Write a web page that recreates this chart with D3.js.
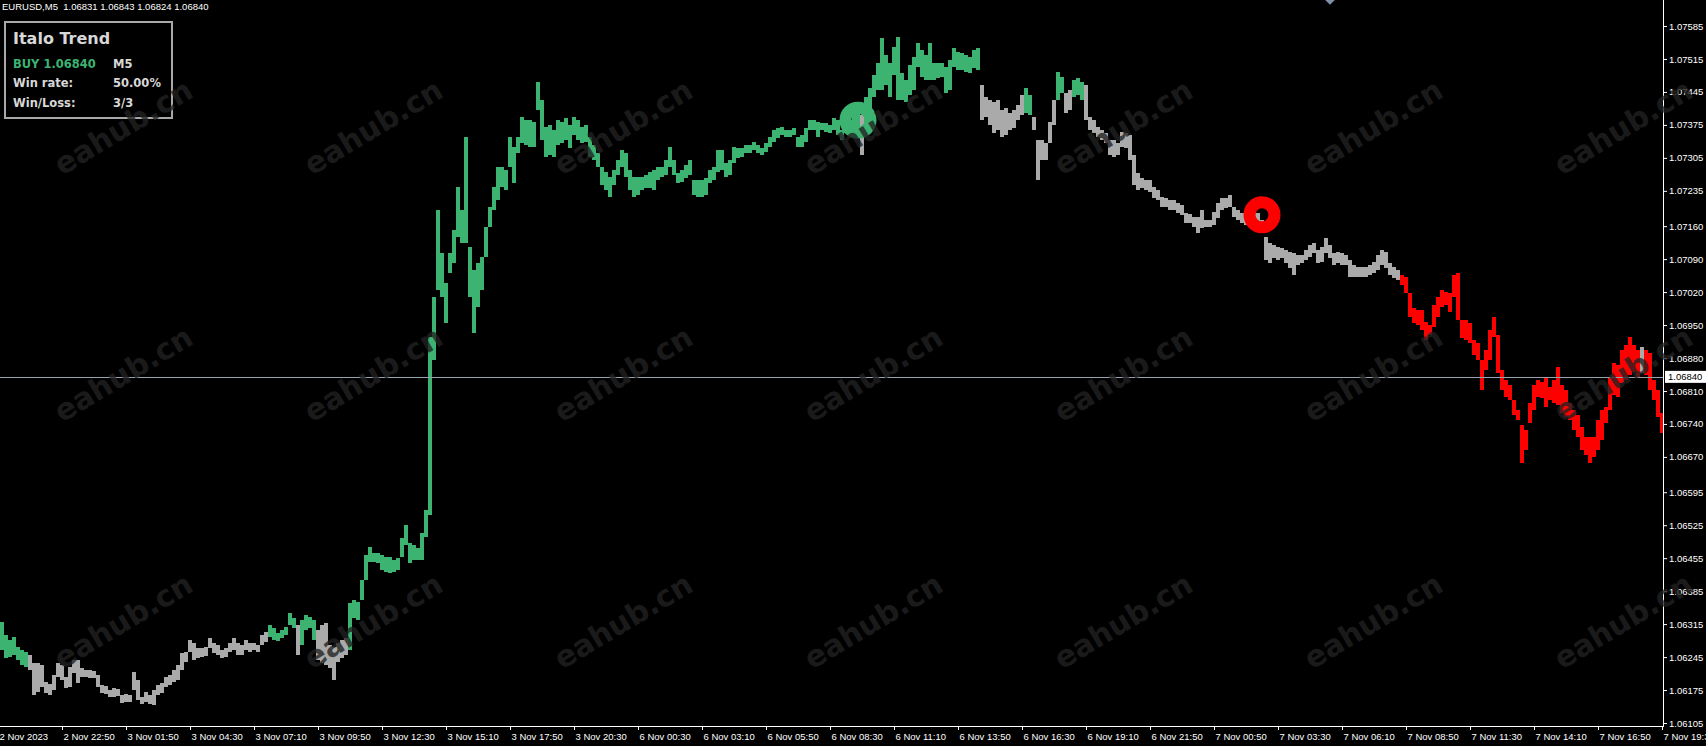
<!doctype html>
<html>
<head>
  <meta charset="UTF-8">
  <script src="https://cdn.jsdelivr.net/npm/d3@7"></script>
  <style>
    body { margin: 0; background: #000; overflow: hidden; }
    svg { display: block; }
    .axis text { font-family: "Liberation Sans", Arial, sans-serif; font-size: 9.5px; fill: #fff; }
    .axis line { stroke: #fff; }
    .panel text { font-family: "DejaVu Sans", sans-serif; font-weight: bold; fill: #d8d8d8; }
  </style>
</head>
<body>
<svg width="1706" height="746"></svg>
<script>
const symbolTitle = "EURUSD,M5  1.06831 1.06843 1.06824 1.06840";
const bidPrice = 1.06840;

const priceTicks = [1.07585, 1.07515, 1.07445, 1.07375, 1.07305, 1.07235, 1.07160, 1.07090,
  1.07020, 1.06950, 1.06880, 1.06810, 1.06740, 1.06670, 1.06595, 1.06525, 1.06455,
  1.06385, 1.06315, 1.06245, 1.06175, 1.06105];

const timeLabels = ["2 Nov 2023", "2 Nov 22:50", "3 Nov 01:50", "3 Nov 04:30", "3 Nov 07:10",
  "3 Nov 09:50", "3 Nov 12:30", "3 Nov 15:10", "3 Nov 17:50", "3 Nov 20:30", "6 Nov 00:30",
  "6 Nov 03:10", "6 Nov 05:50", "6 Nov 08:30", "6 Nov 11:10", "6 Nov 13:50", "6 Nov 16:30",
  "6 Nov 19:10", "6 Nov 21:50", "7 Nov 00:50", "7 Nov 03:30", "7 Nov 06:10", "7 Nov 08:50",
  "7 Nov 11:30", "7 Nov 14:10", "7 Nov 16:50", "7 Nov 19:30"];
const barsPerLabel = 32;

// price = BASE + points * POINT, one entry per pair of M5 bars
const BASE = 1.06, POINT = 0.00001;
const highs = [
  320,292,281,288,266,260,256,249,232,232, 228,192,188,207,232,228,203,224,239,239,
  222,218,218,216,207,186,184,175,179,177, 164,167,164,213,196,160,171,164,175,186,
  190,203,207,218,228,254,256,281,275,264, 264,266,286,275,271,260,264,275,286,275,
  271,281,275,275,271,292,298,313,307,296, 302,309,339,328,313,324,334,330,324,302,
  313,317,271,266,275,281,286,360,366,362, 409,462,479,466,466,462,458,458,451,455,
  498,525,487,483,477,508,557,925,1010,1194, 1103,1039,1103,1152,1243,1194,1349,1116,1067,1082,
  1095,1158,1201,1243,1286,1286,1279,1349,1328,1349, 1392,1385,1385,1381,1466,1428,1371,1375,1364,1385,
  1381,1390,1375,1392,1385,1371,1375,1349,1332,1315, 1286,1275,1264,1279,1300,1322,1315,1279,1264,1264,
  1264,1269,1275,1279,1286,1286,1300,1328,1300,1273, 1279,1290,1300,1258,1258,1258,1262,1279,1286,1322,
  1322,1294,1300,1328,1326,1326,1332,1332,1339,1332, 1326,1337,1349,1364,1368,1371,1364,1364,1368,1349,
  1354,1368,1385,1385,1381,1379,1379,1375,1390,1385, 1364,1385,1385,1400,1402,1396,1434,1453,1481,1506,
  1560,1523,1506,1540,1562,1485,1470,1502,1519,1549, 1534,1523,1549,1506,1506,1506,1498,1513,1538,1530,
  1528,1523,1519,1534,1538,1460,1434,1428,1424,1428, 1407,1411,1400,1407,1417,1438,1453,1438,1392,1343,
  1343,1337,1381,1428,1487,1477,1443,1449,1470,1475, 1466,1460,1392,1385,1371,1364,1358,1343,1343,1337,
  1360,1358,1354,1311,1273,1262,1258,1258,1243,1237, 1222,1220,1216,1216,1209,1205,1188,1186,1180,1180,
  1194,1173,1173,1190,1209,1220,1220,1226,1201,1194, 1188,1190,1188,1190,1188,1173,1137,1124,1120,1116,
  1113,1109,1105,1103,1099,1099,1109,1120,1124,1109, 1116,1135,1120,1103,1105,1103,1099,1088,1078,1073,
  1073,1073,1078,1084,1099,1109,1105,1082,1073,1067, 1056,1052,1018,986,982,982,956,950,993,1010,
  1024,1020,1018,1056,1061,961,961,954,918,912, 876,897,939,967,929,855,833,823,791,770,
  738,727,784,823,833,829,840,818,833,861, 823,812,784,770,759,734,712,712,712,748,
  770,776,838,869,865,897,908,925,908,897, 903,897,891,833,812,763];
const lows = [
  260,243,245,249,239,228,224,218,164,171, 181,169,164,175,203,196,179,181,211,190,
  203,203,201,200,181,169,167,160,160,162, 147,150,150,175,154,145,150,145,143,164,
  169,181,186,192,196,218,235,256,239,243, 245,247,264,254,249,243,245,256,260,249,
  249,260,256,260,256,271,277,288,281,279, 286,292,313,307,249,271,302,307,281,239,
  232,228,222,196,235,243,249,260,328,324, 366,409,447,447,445,430,426,424,426,430,
  458,483,445,451,451,451,500,547,876,1024, 1010,954,1061,1082,1137,1124,1124,1010,933,988,
  1024,1095,1158,1194,1216,1243,1237,1286,1252,1315, 1337,1332,1328,1328,1407,1343,1307,1311,1307,1332,
  1337,1343,1326,1354,1343,1337,1339,1307,1300,1286, 1247,1237,1222,1247,1269,1286,1264,1237,1222,1226,
  1237,1241,1241,1237,1258,1264,1269,1286,1269,1252, 1254,1262,1269,1226,1222,1222,1226,1252,1258,1275,
  1279,1264,1269,1294,1305,1307,1315,1315,1322,1315, 1311,1317,1328,1339,1347,1354,1349,1349,1354,1328,
  1328,1339,1364,1364,1349,1364,1360,1358,1364,1354, 1343,1358,1358,1364,1368,1311,1375,1396,1434,1449,
  1449,1460,1434,1481,1428,1428,1424,1438,1449,1498, 1477,1470,1470,1470,1474,1477,1443,1449,1498,1492,
  1492,1487,1485,1496,1492,1385,1392,1375,1358,1364, 1349,1354,1364,1368,1385,1396,1400,1396,1364,1258,
  1300,1300,1337,1375,1428,1443,1400,1407,1434,1438, 1428,1385,1364,1358,1349,1343,1337,1311,1307,1311,
  1328,1326,1300,1247,1237,1241,1237,1233,1220,1216, 1201,1201,1194,1194,1188,1184,1167,1167,1158,1146,
  1156,1158,1158,1162,1177,1194,1199,1201,1180,1173, 1167,1162,1162,1169,1169,1146,1088,1082,1092,1088,
  1092,1082,1071,1056,1078,1082,1088,1095,1103,1082, 1084,1103,1092,1078,1082,1078,1078,1052,1052,1052,
  1052,1052,1056,1061,1067,1078,1071,1056,1050,1046, 1035,1018,967,954,950,939,918,929,946,967,
  988,993,978,1010,961,922,918,912,886,876, 812,855,876,925,848,812,797,791,759,748,
  657,685,742,770,797,795,776,791,784,780, 763,755,748,727,712,685,674,657,670,685,
  706,742,770,801,797,827,833,844,850,840, 848,844,812,791,755,721];

// trend colouring: segment start index and state
const trendStart = [0, 7, 67, 74, 75, 79, 87, 215, 216, 245, 256, 258, 264, 266, 268, 271, 350, 410, 411];
const trendState = ["up","flat","up","flat","up","flat","up","flat","up","flat","up","flat","up","flat","up","flat","down","flat","down"];
const trendColor = {up: "#3cb371", flat: "#aaaaaa", down: "#ff0000"};

// signal rings
const signalCol = [214, 315];
const signalPrice = [1.07385, 1.07184];
const signalType = ["up", "down"];

const arrowCol = 332, arrowPrice = 1.07630;

const panelTitle = "Italo Trend";
const panelRows = [["BUY 1.06840", "M5"], ["Win rate:", "50.00%"], ["Win/Loss:", "3/3"]];

const svg = d3.select("svg");
const axisX = 1663, axisY = 726;

const xBar = d3.scaleLinear().domain([0, highs.length * 2]).range([0, highs.length * 4]);
const y = d3.scaleLinear().domain([1.06105, 1.07585]).range([723, 26]);
const toPrice = p => BASE + p * POINT;

function stateAt(i) {
  let s = trendState[0];
  trendStart.forEach((st, k) => { if (i >= st) s = trendState[k]; });
  return s;
}

const chart = svg.append("g");

chart.selectAll(".bar")
  .data(highs.map((h, i) => ({i: i, hi: toPrice(h), lo: toPrice(lows[i])})))
  .enter().append("rect")
  .attr("class", "bar")
  .attr("x", d => xBar(d.i * 2))
  .attr("y", d => y(d.hi))
  .attr("width", xBar(2) - xBar(0))
  .attr("height", d => Math.max(1, y(d.lo) - y(d.hi)))
  .attr("shape-rendering", "crispEdges")
  .style("fill", d => trendColor[stateAt(d.i)]);

// bid line
chart.append("line")
  .attr("x1", 0).attr("x2", axisX)
  .attr("y1", Math.round(y(bidPrice)) + 0.5).attr("y2", Math.round(y(bidPrice)) + 0.5)
  .attr("stroke", "#9aa3ad").attr("stroke-width", 1);

// signal rings
chart.selectAll(".ring")
  .data(signalCol.map((c, k) => ({c: c, p: signalPrice[k], t: signalType[k]})))
  .enter().append("circle")
  .attr("cx", d => xBar(d.c * 2 + 1))
  .attr("cy", d => y(d.p))
  .attr("r", 12.5)
  .attr("fill", "none")
  .attr("stroke", d => trendColor[d.t])
  .attr("stroke-width", 12);

// small arrow at top
const ax = xBar(arrowCol * 2 + 1), ay = y(arrowPrice);
chart.append("path")
  .attr("d", `M${ax - 6},${ay - 6}L${ax + 6},${ay - 6}L${ax},${ay}Z`)
  .attr("fill", "#8090a8");

// price axis
const yAxis = svg.append("g")
  .attr("class", "axis")
  .attr("transform", `translate(${axisX},0)`)
  .call(d3.axisRight(y).tickValues(priceTicks).tickSize(4).tickPadding(2).tickFormat(d3.format(".5f")));
yAxis.select(".domain").remove();
svg.append("line").attr("x1", axisX + 0.5).attr("x2", axisX + 0.5).attr("y1", 0).attr("y2", axisY + 1)
  .attr("stroke", "#fff");

// time axis
const labelBars = timeLabels.map((_, k) => k * barsPerLabel - 1);
const xAxis = svg.append("g")
  .attr("class", "axis")
  .attr("transform", `translate(0,${axisY})`)
  .call(d3.axisBottom(xBar).tickValues(labelBars).tickSize(4).tickPadding(3).tickFormat((d, i) => timeLabels[i]));
xAxis.select(".domain").remove();
xAxis.selectAll("text").attr("text-anchor", "start").attr("x", 1);
svg.append("line").attr("x1", 0).attr("x2", axisX + 1).attr("y1", axisY + 0.5).attr("y2", axisY + 0.5)
  .attr("stroke", "#fff");

// bid label
const by = y(bidPrice);
svg.append("rect").attr("x", axisX + 2).attr("y", by - 6).attr("width", 45).attr("height", 12).attr("fill", "#fff");
svg.append("text").attr("x", axisX + 5).attr("y", by + 3.5)
  .style("font-family", "Liberation Sans, Arial, sans-serif").style("font-size", "9.5px").style("fill", "#000")
  .text(d3.format(".5f")(bidPrice));

// symbol line
svg.append("text").attr("x", 2).attr("y", 10)
  .style("font-family", "Liberation Sans, Arial, sans-serif").style("font-size", "9.5px").style("fill", "#fff")
  .style("white-space", "pre").attr("xml:space", "preserve")
  .text(symbolTitle);

// info panel
const panel = svg.append("g").attr("class", "panel");
panel.append("rect").attr("x", 5).attr("y", 22).attr("width", 167).attr("height", 96)
  .attr("fill", "#000").attr("stroke", "#a8a8a8").attr("stroke-width", 2);
panel.append("text").attr("x", 13).attr("y", 44).style("font-size", "16px").text(panelTitle);
const rowY = [68, 87, 107];
panelRows.forEach((r, k) => {
  panel.append("text").attr("x", 13).attr("y", rowY[k]).style("font-size", "11.5px")
    .style("fill", k === 0 ? "#3cb371" : "#d8d8d8").text(r[0]);
  panel.append("text").attr("x", 113).attr("y", rowY[k]).style("font-size", "11.5px").text(r[1]);
});

// watermark
const wm = svg.append("g").attr("pointer-events", "none");
d3.range(3).forEach(r => {
  d3.range(7).forEach(c => {
    const wx = 62 + c * 250, wy = 176 + r * 247;
    wm.append("text")
      .attr("transform", `translate(${wx},${wy}) rotate(-31)`)
      .style("font-family", "DejaVu Sans, sans-serif").style("font-weight", "bold").style("font-size", "30px")
      .style("fill", "rgba(34,34,34,0.8)")
      .text("eahub.cn");
  });
});
</script>
</body>
</html>
